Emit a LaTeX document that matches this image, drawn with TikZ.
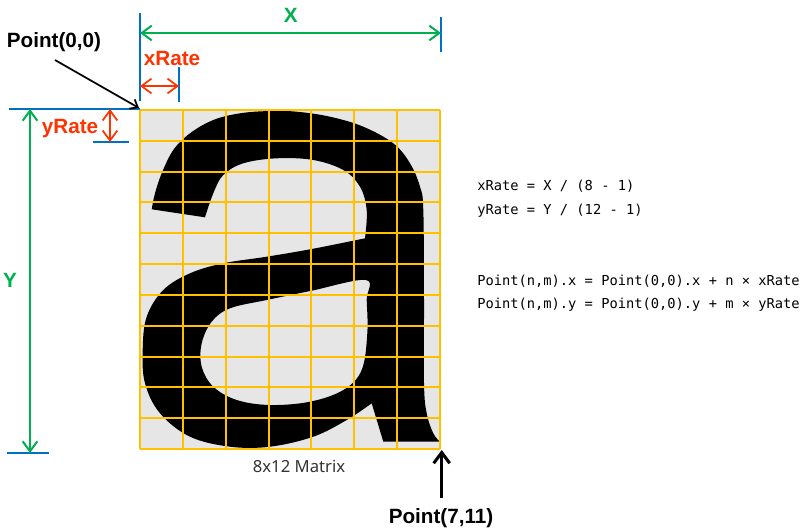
\documentclass[tikz,border=0pt]{standalone}
\usepackage{fontspec}
\setmainfont{Noto Sans}
\newfontfamily\lblfont{Liberation Sans}
\newfontfamily\codefont{DejaVu Sans Mono}
\usetikzlibrary{arrows.meta}
\definecolor{cgreen}{HTML}{00B050}
\definecolor{cred}{HTML}{FF3300}
\definecolor{cblue}{HTML}{0070C0}
\definecolor{cgrid}{HTML}{FFC000}
\definecolor{cbg}{HTML}{E6E6E6}
\definecolor{cgray}{HTML}{333333}
\begin{document}
\begin{tikzpicture}[x=0.75pt,y=-0.75pt,
  lbl/.style={inner sep=0pt, font=\lblfont\bfseries\fontsize{15.5}{18}\selectfont},
  code/.style={inner sep=0pt, anchor=base west, font=\codefont\fontsize{10.3}{12}\selectfont},
  tick/.style={cblue, line width=1.5pt},
  gridline/.style={cgrid, line width=1.5pt},
  dimarrow/.style={line width=1.5pt, {Straight Barb[length=7.5pt,width=11pt]}-{Straight Barb[length=7.5pt,width=11pt]}},
  ptrthin/.style={line width=1.3pt, -{Straight Barb[length=5pt,width=8pt]}},
  ptrthick/.style={line width=2.3pt, -{Straight Barb[length=8pt,width=12pt]}}]
\useasboundingbox (0,0) rectangle (804,529);

% corners of the matrix
\coordinate (p00) at (140,110);
\coordinate (p711) at (440,449);

% background of matrix
\fill[cbg] (p00) rectangle (p711);

% the letter a
\fill[black, even odd rule]
 plot[smooth, tension=0.6] coordinates {(151.7,209.3) (155,193.3) (161.7,173.3) (173.3,150) (190,133.3) (213.3,120) (240,113.3) (270,111) (296.7,111.7) (330,116.7) (363.3,126.7) (393.3,143.3) (410,163.3) (420,186.7) (423.3,210) (424,300) (424,383.3) (426.7,413.3) (433.3,433.3) (440,441.7)}
 -- (383.3,441.7) -- (371.7,403.3)
 -- plot[smooth, tension=0.6] coordinates {(371.7,403.3) (346.7,420) (313.3,436.7) (270,446.7) (230,446.7) (190,436.7) (160,413.3) (145,383.3) (142.7,350) (146.7,316.7) (163.3,290) (190,273.3) (223.3,263.3) (266.7,256.7) (311.7,249) (365,238.3)}
 -- plot[smooth, tension=0.6] coordinates {(365,238.3) (366.7,210) (360,186.7) (343.3,170) (313.3,160) (276.7,158.3) (243.3,163.3) (223.3,175) (213.3,193.3) (205,217.3)}
 -- cycle
 plot[smooth cycle, tension=0.6] coordinates {(365.7,280) (311.7,290.7) (266.7,300) (230,308.3) (211.7,321.7) (201.7,343.3) (201.7,366.7) (213.3,386.7) (236.7,400) (270,405) (310,401.7) (343.3,390) (361.7,370) (367.3,333.3) (366.7,300)};

% grid
\foreach \i in {0,...,7}
  \draw[gridline] ({140+\i*300/7},110) -- ({140+\i*300/7},449);
\foreach \j in {0,...,11}
  \draw[gridline] (140,{110+\j*339/11}) -- (440,{110+\j*339/11});

% blue extension lines
\coordinate (tl1) at (9,109);
\coordinate (tl2) at (140,109);
\coordinate (tv1) at (140,13);
\coordinate (tv2) at (140,101);
\coordinate (xr1) at (179,67);
\coordinate (xr2) at (179,102);
\coordinate (yr1) at (93,142);
\coordinate (yr2) at (129,142);
\coordinate (rv1) at (441,17);
\coordinate (rv2) at (441,52);
\coordinate (bl1) at (7,453);
\coordinate (bl2) at (49,453);
\draw[tick] (tl1) -- (tl2);
\draw[tick] (tv1) -- (tv2);
\draw[tick] (xr1) -- (xr2);
\draw[tick] (yr1) -- (yr2);
\draw[tick] (rv1) -- (rv2);
\draw[tick] (bl1) -- (bl2);

% dimension arrows
\coordinate (xa1) at (140,33);
\coordinate (xa2) at (441,33);
\coordinate (ya1) at (30,109);
\coordinate (ya2) at (30,453);
\coordinate (xra1) at (140,86);
\coordinate (xra2) at (179,86);
\coordinate (yra1) at (110,109);
\coordinate (yra2) at (110,142);
\draw[dimarrow, cgreen] (xa1) -- (xa2);
\draw[dimarrow, cgreen] (ya1) -- (ya2);
\draw[dimarrow, cred, line width=1.3pt] (xra1) -- (xra2);
\draw[dimarrow, cred, line width=1.3pt] (yra1) -- (yra2);

% labels
\node[lbl, text=cgreen] (X) at (290.7,15) {X};
\node[lbl, text=cgreen] (Y) at (10,280) {Y};
\node[lbl, text=cred] (xrate) at (172,58) {xRate};
\node[lbl, text=cred] (yrate) at (70,129) {yRate};
\node[lbl] (p0) at (54,42) {Point(0,0)};
\node[lbl] (p7) at (441,518) {Point(7,11)};
\node[inner sep=0pt, text=cgray, font=\fontsize{12.5}{15}\selectfont] (mat) at (299,466) {8x12 Matrix};

% pointers
\coordinate (p0a) at (55,60);
\coordinate (p0b) at (139,108);
\coordinate (p7a) at (441.7,498);
\coordinate (p7b) at (441.7,450);
\draw[ptrthin] (p0a) -- (p0b);
\draw[ptrthick] (p7a) -- (p7b);

% formulas
\node[code] (f1) at (477,190.5) {xRate = X / (8 - 1)};
\node[code] (f2) at (477,214.5) {yRate = Y / (12 - 1)};
\node[code] (f3) at (477,285) {Point(n,m).x = Point(0,0).x + n × xRate};
\node[code] (f4) at (477,308.5) {Point(n,m).y = Point(0,0).y + m × yRate};
\end{tikzpicture}
\end{document}
